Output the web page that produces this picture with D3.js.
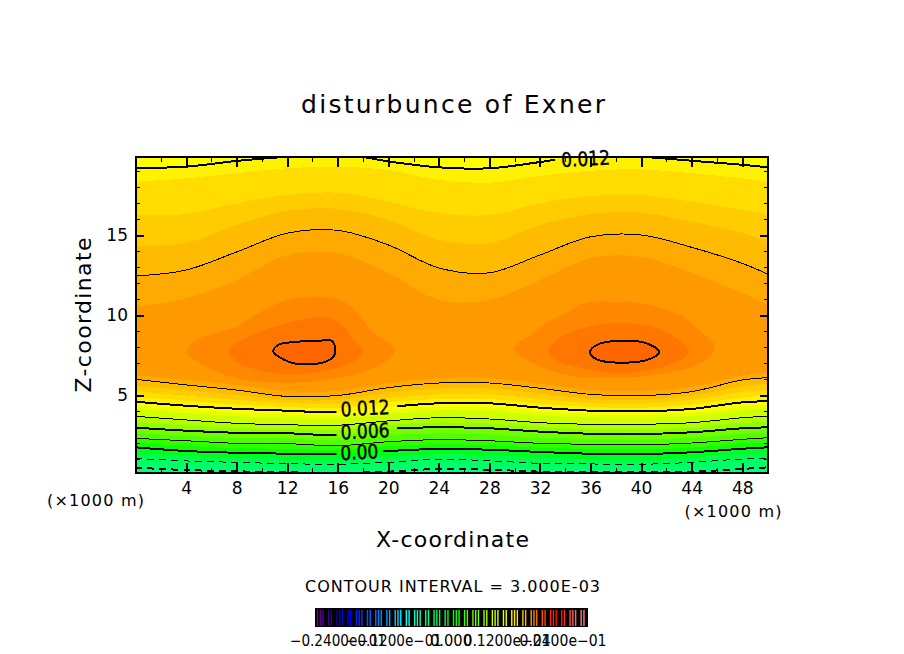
<!DOCTYPE html>
<html>
<head>
<meta charset="utf-8">
<script src="https://cdn.jsdelivr.net/npm/d3@7"></script>
<style>
  html, body { margin: 0; padding: 0; background: #fff; }
  text { font-family: "DejaVu Sans", sans-serif; fill: #000; }
</style>
</head>
<body>
<div id="chart"></div>
<script>
// x stations (km) shared by all the horizontal isolines
const xKm = [0, 4, 8, 12, 16, 20, 24, 28, 32, 36, 40, 44, 48, 50];

// isoline heights (km), lower branch
const zNeg60 = [0.46, 0.31, 0.23, 0.17, 0.14, 0.21, 0.38, 0.33, 0.21, 0.17, 0.17, 0.21, 0.38, 0.48];
const zNeg45 = [0.75, 0.6, 0.51, 0.44, 0.41, 0.5, 0.68, 0.61, 0.47, 0.43, 0.42, 0.5, 0.69, 0.76];
const zNeg30 = [1.04, 0.88, 0.79, 0.71, 0.67, 0.79, 0.98, 0.89, 0.73, 0.69, 0.67, 0.79, 1.0, 1.04];
const zNeg15 = [1.38, 1.19, 1.09, 1.02, 0.99, 1.14, 1.3, 1.23, 1.08, 1.01, 0.99, 1.1, 1.32, 1.38];
const zPos00 = [1.73, 1.5, 1.39, 1.33, 1.31, 1.5, 1.63, 1.58, 1.44, 1.33, 1.31, 1.42, 1.64, 1.73];
const zPos15 = [2.01, 1.82, 1.68, 1.64, 1.57, 1.79, 1.92, 1.86, 1.71, 1.62, 1.6, 1.71, 1.94, 2.03];
const zPos30 = [2.29, 2.14, 1.98, 1.96, 1.83, 2.08, 2.21, 2.14, 1.98, 1.92, 1.89, 2.0, 2.23, 2.33];
const zPos45 = [2.62, 2.45, 2.31, 2.28, 2.16, 2.48, 2.6, 2.53, 2.34, 2.25, 2.22, 2.33, 2.57, 2.65];
const zPos60 = [2.96, 2.77, 2.64, 2.61, 2.5, 2.88, 2.98, 2.92, 2.71, 2.58, 2.56, 2.67, 2.92, 2.98];
const zPos75 = [3.31, 3.1, 2.93, 2.87, 2.8, 3.13, 3.28, 3.21, 2.99, 2.87, 2.86, 2.97, 3.25, 3.32];
const zPos90 = [3.67, 3.44, 3.23, 3.14, 3.11, 3.38, 3.58, 3.5, 3.27, 3.17, 3.17, 3.27, 3.58, 3.67];
const zPos105 = [4.12, 3.88, 3.68, 3.58, 3.51, 3.81, 4.03, 3.99, 3.74, 3.6, 3.57, 3.7, 4.06, 4.14];
const zPos112 = [4.35, 4.1, 3.9, 3.8, 3.7, 4.03, 4.25, 4.23, 3.98, 3.8, 3.77, 3.9, 4.3, 4.37];
const zPos120 = [4.58, 4.33, 4.14, 4.02, 3.92, 4.25, 4.48, 4.48, 4.21, 4.02, 3.98, 4.13, 4.54, 4.61];
const zPos127 = [4.9, 4.65, 4.4, 4.25, 4.2, 4.55, 4.75, 4.75, 4.45, 4.25, 4.2, 4.4, 4.85, 4.95];
const zPos135 = [5.25, 4.95, 4.7, 4.5, 4.45, 4.8, 5.05, 5.05, 4.75, 4.5, 4.45, 4.7, 5.2, 5.3];
const zPos142 = [5.6, 5.3, 5.0, 4.7, 4.7, 5.15, 5.4, 5.4, 5.1, 4.75, 4.7, 4.95, 5.55, 5.7];
const zPos150 = [5.98, 5.63, 5.31, 4.91, 4.97, 5.46, 5.75, 5.75, 5.42, 5.04, 4.96, 5.21, 5.94, 6.08];
const zPos157 = [6.25, 5.94, 5.63, 5.25, 5.25, 5.75, 6.06, 6.06, 5.71, 5.31, 5.25, 5.5, 6.22, 6.38];

// upper branch of the same levels
const zTop120 = [19.19, 19.27, 19.63, 19.89, 20.1, 19.6, 19.23, 19.17, 19.56, 20.0, 19.89, 19.64, 19.39, 19.23];
const zTop127 = [18.33, 18.54, 18.86, 19.17, 19.27, 19.06, 18.44, 18.27, 18.69, 19.02, 19.1, 18.86, 18.54, 18.33];
const zTop135 = [16.25, 16.31, 16.98, 17.5, 17.64, 17.08, 16.36, 16.25, 16.98, 17.44, 17.5, 17.08, 16.56, 16.25];
const zTop142 = [14.31, 14.5, 15.63, 16.52, 16.63, 15.94, 14.69, 14.48, 15.63, 16.31, 16.39, 15.83, 15.13, 14.58];
const zTop150 = [12.44, 12.81, 13.94, 15.11, 15.29, 14.38, 12.94, 12.64, 13.75, 14.89, 15.0, 14.23, 13.23, 12.56];
const zTop157 = [10.52, 11.04, 12.19, 13.75, 13.86, 12.63, 10.94, 10.94, 12.19, 13.56, 13.63, 12.63, 11.38, 10.63];

// closed cells around the two maxima, [x km, z km]
const cell165Left = [[4.05, 7.64], [4.84, 8.44], [8.0, 9.27], [8.8, 9.69], [11.96, 10.94], [14.6, 11.14], [16.71, 10.73], [18.0, 9.69], [18.55, 9.06], [20.53, 7.81], [19.34, 6.88], [15.92, 6.04], [11.96, 5.77], [8.0, 6.04], [5.63, 6.77]];
const cell165Right = [[29.89, 7.92], [31.47, 8.86], [32.79, 9.69], [34.11, 10.11], [35.43, 10.73], [38.07, 10.83], [40.7, 10.63], [43.34, 9.89], [44.27, 9.27], [45.85, 7.92], [44.4, 6.88], [41.76, 6.36], [38.07, 6.04], [34.11, 6.25], [31.47, 6.98]];
const cell172Left = [[7.34, 7.71], [8.0, 8.23], [10.64, 9.17], [14.6, 9.86], [16.18, 9.48], [17.23, 8.44], [17.97, 7.71], [17.23, 7.08], [14.6, 6.46], [11.96, 6.29], [9.32, 6.67], [8.0, 7.08]];
const cell172Right = [[32.61, 7.71], [33.32, 8.44], [35.43, 9.17], [38.07, 9.52], [40.7, 9.31], [42.82, 8.54], [43.81, 7.71], [42.82, 7.08], [40.7, 6.56], [38.07, 6.36], [35.43, 6.67], [33.58, 7.08]];
const cell180Left = [[10.9, 7.71], [11.3, 8.13], [12.48, 8.31], [14.6, 8.39], [15.39, 8.44], [15.78, 8.02], [15.65, 7.39], [14.86, 7.04], [12.75, 6.94], [11.69, 7.23]];
const cell180Right = [[35.96, 7.67], [36.49, 8.13], [38.33, 8.39], [40.44, 8.23], [41.42, 7.71], [40.7, 7.25], [38.33, 7.02], [36.49, 7.23]];

// shading levels, lowest first: colour above the level
const baseColor = '#00ff80';
const bandLower = [zNeg60, zNeg45, zNeg30, zNeg15, zPos00, zPos15, zPos30, zPos45, zPos60, zPos75, zPos90, zPos105, zPos112, zPos120, zPos127, zPos135, zPos142, zPos150, zPos157];
const bandUpper = [null, null, null, null, null, null, null, null, null, null, null, null, null, zTop120, zTop127, zTop135, zTop142, zTop150, zTop157];
const bandColors = ['#00ff70', '#00ff60', '#00ff48', '#00ff20', '#10ff00', '#30ff00', '#50ff00', '#70ff00', '#90ff00', '#b0ff00', '#d0ff00', '#e8ff00', '#ffff00', '#fff200', '#ffdd00', '#ffcc00', '#ffbb00', '#ffaa00', '#ff9900'];
const cellLevels = [cell165Left, cell165Right, cell172Left, cell172Right, cell180Left, cell180Right];
const cellColors = ['#ff8800', '#ff8800', '#ff7700', '#ff7700', '#ff6600', '#ff6600'];

// contour lines: thick at every second level, dashed when negative
const thinLines = [zPos30, zPos90, zPos150, zTop150];
const thickLines = [zPos00, zPos60, zPos120, zTop120];
const dashedThin = [zNeg30];
const dashedThick = [zNeg60];
const thickCells = [cell180Left, cell180Right];

// contour labels
const labelTexts = ['0.012', '0.006', '0.00', '0.012'];
const labelX = [18.16, 18.16, 17.7, 35.6];
const labelZ = [4.19, 2.75, 1.44, 19.78];
const labelWidths = [49, 49, 38, 49];
const gapX = [[15.9, 20.7], [15.9, 20.7], [15.9, 19.6], [33.2, 37.6]];
const gapZ = [[3.7, 4.5], [2.4, 3.0], [1.2, 1.7], [19.3, 20.4]];

// axis ticks
const xMajor = [4, 8, 12, 16, 20, 24, 28, 32, 36, 40, 44, 48];
const xMinor = [2, 6, 10, 14, 18, 22, 26, 30, 34, 38, 42, 46];
const yMajor = [5, 10, 15];
const yMinor = [1, 2, 3, 4, 6, 7, 8, 9, 11, 12, 13, 14, 16, 17, 18, 19];

// label bar
const barStops = [0, 0.05, 0.08, 0.12, 0.19, 0.26, 0.32, 0.385, 0.495, 0.64, 0.71, 0.78, 0.835, 0.885, 0.94, 1];
const barColors = ['#7000a0', '#300080', '#0000c0', '#0000ff', '#0060ff', '#00a0ff', '#00ffff', '#00ffa0', '#00ff00', '#c0ff00', '#ffff00', '#ffa000', '#ff4000', '#ff0000', '#ff6060', '#ff9090'];
const barSlotCount = 98;
const barLabels = ['−0.2400e−01', '−0.1200e−01', '0.000', '0.1200e−01', '0.2400e−01'];
const barLabelX = [338, 394, 451, 507, 563];
const barLabelWidths = [96, 96, 42, 87, 87];

const width = 904;
const height = 654;
const plot = { left: 136, right: 768, top: 157, bottom: 473 };

const svg = d3
  .select('#chart')
  .append('svg')
  .attr('width', width)
  .attr('height', height)
  .style('display', 'block');

const x = d3.scaleLinear().domain([0, 50]).range([plot.left - 0.5, plot.right - 0.5]);
const y = d3.scaleLinear().domain([0.125, 19.875]).range([plot.bottom, plot.top]);

const defs = svg.append('defs');
defs
  .append('clipPath')
  .attr('id', 'plot-clip')
  .append('rect')
  .attr('x', plot.left)
  .attr('y', plot.top)
  .attr('width', plot.right - plot.left)
  .attr('height', plot.bottom - plot.top);

// contour lines are broken where a label sits
const gapMask = defs.append('mask').attr('id', 'label-gaps').attr('maskUnits', 'userSpaceOnUse')
  .attr('x', 0).attr('y', 0).attr('width', width).attr('height', height);
gapMask.append('rect').attr('width', width).attr('height', height).attr('fill', '#fff');
gapX.forEach((gx, i) => {
  gapMask
    .append('rect')
    .attr('x', x(gx[0]))
    .attr('y', y(gapZ[i][1]))
    .attr('width', x(gx[1]) - x(gx[0]))
    .attr('height', y(gapZ[i][0]) - y(gapZ[i][1]))
    .attr('fill', '#000');
});

const curveLine = d3
  .line()
  .x((d) => x(d[0]))
  .y((d) => y(d[1]))
  .curve(d3.curveCatmullRom.alpha(0.5));

const cellLine = d3
  .line()
  .x((d) => x(d[0]))
  .y((d) => y(d[1]))
  .curve(d3.curveCatmullRomClosed.alpha(0.5));

const stations = (zs) => xKm.map((k, i) => [k, zs[i]]);

// painted lowest level first, each band covers everything above its level
const fills = svg.append('g').attr('clip-path', 'url(#plot-clip)').attr('shape-rendering', 'crispEdges');
fills
  .append('rect')
  .attr('x', plot.left)
  .attr('y', plot.top)
  .attr('width', plot.right - plot.left)
  .attr('height', plot.bottom - plot.top)
  .attr('fill', baseColor);

const bandArea = d3
  .area()
  .x((d) => x(d.k))
  .y0((d) => y(d.low))
  .y1((d) => y(d.high))
  .curve(d3.curveCatmullRom.alpha(0.5));

fills
  .selectAll('path.band')
  .data(bandLower)
  .enter()
  .append('path')
  .attr('class', 'band')
  .attr('fill', (d, i) => bandColors[i])
  .attr('d', (d, i) =>
    bandArea(xKm.map((k, j) => ({ k, low: d[j], high: bandUpper[i] ? bandUpper[i][j] : 21 })))
  );

fills
  .selectAll('path.cell')
  .data(cellLevels)
  .enter()
  .append('path')
  .attr('class', 'cell')
  .attr('fill', (d, i) => cellColors[i])
  .attr('d', cellLine);

const lines = svg
  .append('g')
  .attr('clip-path', 'url(#plot-clip)')
  .append('g')
  .attr('mask', 'url(#label-gaps)')
  .attr('fill', 'none')
  .attr('stroke', '#000')
  .attr('shape-rendering', 'crispEdges');

const drawLines = (list, strokeWidth, dash) => {
  list.forEach((zs) => {
    lines
      .append('path')
      .attr('d', curveLine(stations(zs)))
      .attr('stroke-width', strokeWidth)
      .attr('stroke-dasharray', dash);
  });
};
drawLines(thinLines, 1, null);
drawLines(thickLines, 2, null);
drawLines(dashedThin, 1, '7 5');
drawLines(dashedThick, 2, '7 5');
thickCells.forEach((c) => {
  lines.append('path').attr('d', cellLine(c)).attr('stroke-width', 2);
});

svg
  .append('g')
  .selectAll('text')
  .data(labelTexts)
  .enter()
  .append('text')
  .attr('transform', (d, i) => `translate(${x(labelX[i])}, ${y(labelZ[i])}) rotate(-3)`)
  .attr('text-anchor', 'middle')
  .attr('dy', '0.36em')
  .attr('font-size', 20)
  .attr('stroke', '#000')
  .attr('stroke-width', 0.4)
  .attr('textLength', (d, i) => labelWidths[i])
  .attr('lengthAdjust', 'spacingAndGlyphs')
  .text((d) => d);

// axes: ticks point inward on all four sides
const styleAxis = (g, strokeWidth) => {
  g.select('.domain').remove();
  g.selectAll('line').attr('stroke', '#000').attr('stroke-width', strokeWidth).attr('shape-rendering', 'crispEdges');
};
const addAxis = (axis, tx, ty, strokeWidth) => {
  const g = svg.append('g').attr('transform', `translate(${tx}, ${ty})`).call(axis);
  styleAxis(g, strokeWidth);
  g.selectAll('text').attr('font-size', 17);
  return g;
};

addAxis(d3.axisBottom(x).tickValues(xMajor).tickSize(-10).tickPadding(6).tickFormat(d3.format('d')), 0, plot.bottom, 2)
  .selectAll('text').attr('dy', '0.9em');
addAxis(d3.axisBottom(x).tickValues(xMinor).tickSize(-5).tickFormat(''), 0, plot.bottom, 1);
addAxis(d3.axisTop(x).tickValues(xMajor).tickSize(-10).tickFormat(''), 0, plot.top, 2);
addAxis(d3.axisTop(x).tickValues(xMinor).tickSize(-5).tickFormat(''), 0, plot.top, 1);
addAxis(d3.axisLeft(y).tickValues(yMajor).tickSize(-8).tickPadding(8).tickFormat(d3.format('d')), plot.left, 0, 2);
addAxis(d3.axisLeft(y).tickValues(yMinor).tickSize(-4).tickFormat(''), plot.left, 0, 1);
addAxis(d3.axisRight(y).tickValues(yMajor).tickSize(-8).tickFormat(''), plot.right, 0, 2);
addAxis(d3.axisRight(y).tickValues(yMinor).tickSize(-4).tickFormat(''), plot.right, 0, 1);

svg
  .append('rect')
  .attr('x', plot.left)
  .attr('y', plot.top)
  .attr('width', plot.right - plot.left)
  .attr('height', plot.bottom - plot.top)
  .attr('fill', 'none')
  .attr('stroke', '#000')
  .attr('stroke-width', 2)
  .attr('shape-rendering', 'crispEdges');

// free text
const addText = (s, tx, ty, size, len, rotate) => {
  svg
    .append('text')
    .attr('transform', `translate(${tx}, ${ty})${rotate ? ` rotate(${rotate})` : ''}`)
    .attr('text-anchor', 'middle')
    .attr('dy', '0.36em')
    .attr('font-size', size)
    .attr('textLength', len)
    .attr('lengthAdjust', 'spacing')
    .text(s);
};
addText('disturbunce of Exner', 453, 104, 25, 304);
addText('Z-coordinate', 83, 315, 22, 155, -90);
addText('X-coordinate', 452.5, 539, 22, 153);
addText('(×1000 m)', 95.5, 500, 16, 97);
addText('(×1000 m)', 733, 511, 16, 97);
addText('CONTOUR INTERVAL = 3.000E-03', 452.5, 586, 16, 295);

// label bar
const barColor = d3.scaleLinear().domain(barStops).range(barColors);
const barX = d3.scaleLinear().domain([0, barSlotCount]).range([316, 588]);
svg
  .append('rect')
  .attr('x', 315)
  .attr('y', 608)
  .attr('width', 273)
  .attr('height', 19)
  .attr('fill', '#000');
svg
  .append('g')
  .selectAll('rect')
  .data(d3.range(barSlotCount).filter((i) => i % 7 !== 3 && i % 7 !== 6))
  .enter()
  .append('rect')
  .attr('x', (d) => barX(d) + 0.8)
  .attr('y', 610)
  .attr('width', 1.4)
  .attr('height', 16)
  .attr('fill', (d) => barColor(d / barSlotCount));

svg
  .append('g')
  .selectAll('text')
  .data(barLabels)
  .enter()
  .append('text')
  .attr('x', (d, i) => barLabelX[i])
  .attr('y', 641)
  .attr('dy', '0.36em')
  .attr('text-anchor', 'middle')
  .attr('font-size', 15)
  .attr('textLength', (d, i) => barLabelWidths[i])
  .attr('lengthAdjust', 'spacingAndGlyphs')
  .text((d) => d);
</script>
</body>
</html>
